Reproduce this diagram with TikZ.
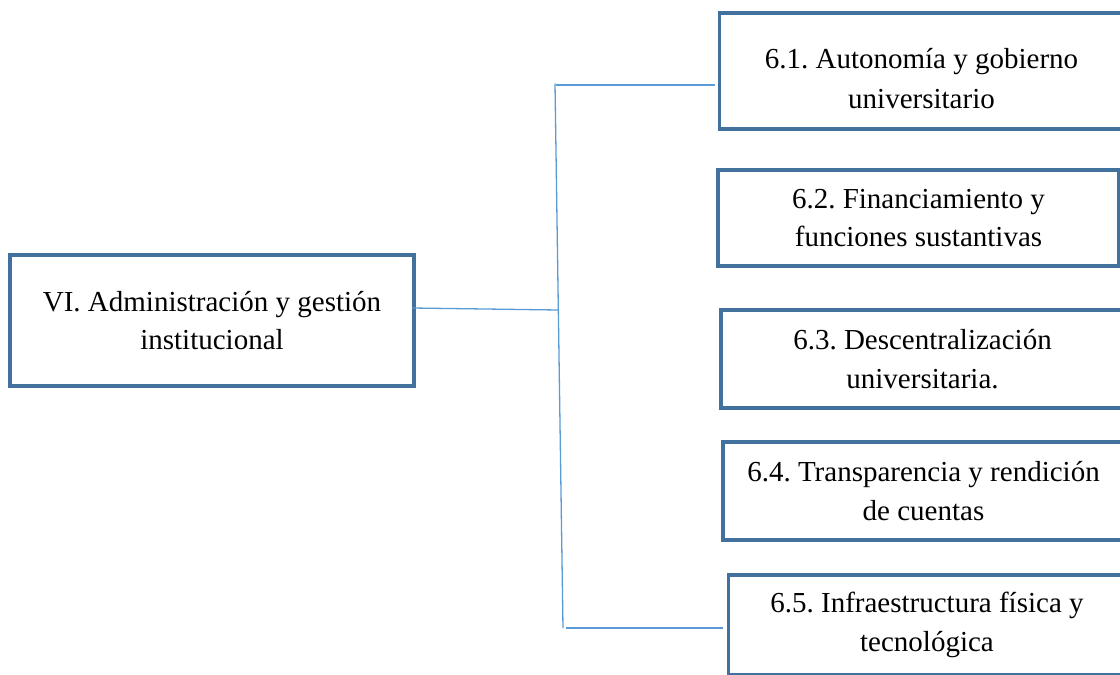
\documentclass[tikz,border=0pt]{standalone}
\usepackage{fontspec}
\setmainfont{Liberation Serif}
\definecolor{boxblue}{HTML}{41719C}
\definecolor{lineblue}{HTML}{5B9BD5}
\begin{document}
\frenchspacing
\begin{tikzpicture}[x=1pt,y=-1pt,
  box/.style={draw=boxblue, line width=3.8pt, rectangle, inner sep=0pt, align=center,
    font=\fontsize{29}{38.5}\selectfont\frenchspacing, text=black},
  conn/.style={draw=lineblue, line width=1.3pt}]
\useasboundingbox (0,0) rectangle (1120,675);
\begin{scope}
\clip (0,0) rectangle (1120,675);
\node[box, minimum width=404pt, minimum height=131pt] (main) at (212,320.5)
  {VI. Administración y gestión\\institucional};
\node[box, minimum width=404pt, minimum height=116pt] (b1) at (921.5,71)
  {\rule{0pt}{35pt}6.1. Autonomía y gobierno\\[2pt]universitario};
\node[box, minimum width=401pt, minimum height=96pt] (b2) at (918.5,218)
  {6.2. Financiamiento y\\funciones sustantivas};
\node[box, minimum width=403pt, minimum height=98pt] (b3) at (922.5,359)
  {6.3. Descentralización\\universitaria.};
\node[box, minimum width=401pt, minimum height=98pt] (b4) at (923.5,491)
  {6.4. Transparencia y rendición\\de cuentas};
\node[box, minimum width=397pt, minimum height=100pt] (b5) at (927,625)
  {6.5. Infraestructura física y\\tecnológica};
\end{scope}
\coordinate (top) at (555,83.5);
\coordinate (bot) at (563,628);
\coordinate (j) at (558.5,310);
\draw[conn] (top) -- (bot);
\draw[conn] ([shift={(-4,-12.5)}]main.east) -- (j);
\draw[conn] ([shift={(1,1.5)}]top) -- ([shift={(-3,14)}]b1.west);
\draw[conn] ([xshift=3pt]bot) -- ([shift={(-4,3)}]b5.west);
\end{tikzpicture}
\end{document}
